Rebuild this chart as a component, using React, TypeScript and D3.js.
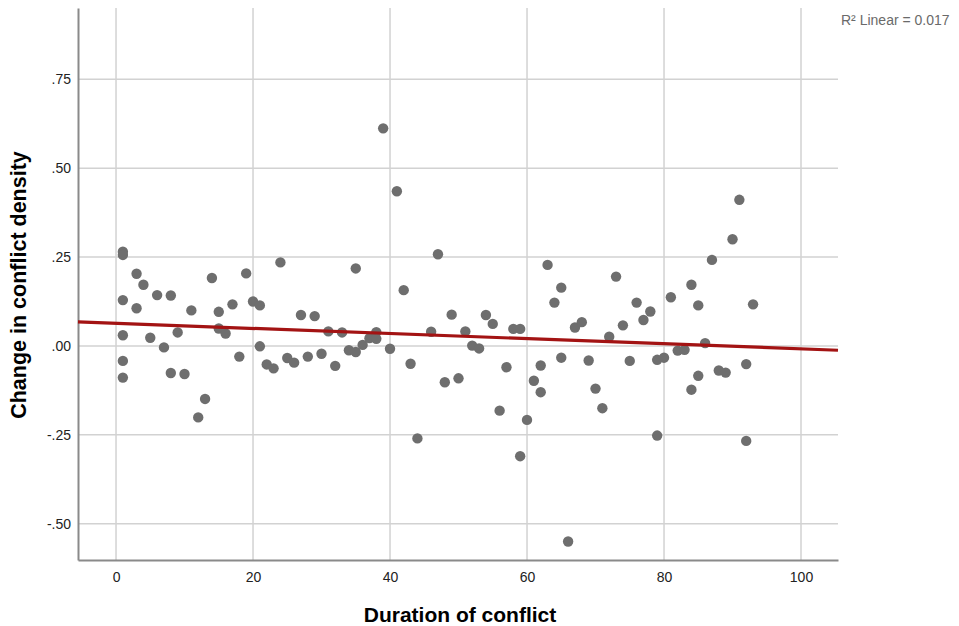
import React, { useEffect, useRef } from "react";
import * as d3 from "d3";

// duration of conflict (x) and change in conflict density (y)
const durations = [
  1, 1, 1, 1, 1, 1, 3, 3, 4, 5, 6, 7, 8, 8, 9, 10, 11, 12, 13, 14, 15, 15, 16, 17, 18, 19, 20,
  21, 21, 22, 23, 24, 25, 26, 27, 28, 29, 30, 31, 32, 33, 34, 35, 35, 36, 37, 38, 38, 39, 40,
  41, 42, 43, 44, 46, 47, 48, 49, 50, 51, 52, 53, 54, 55, 56, 57, 58, 59, 59, 60, 61, 62, 62,
  63, 64, 65, 65, 66, 67, 68, 69, 70, 71, 72, 73, 74, 75, 76, 77, 78, 79, 79, 80, 81, 82, 83,
  84, 84, 85, 85, 86, 87, 88, 89, 90, 91, 92, 92, 93,
];
const changes = [
  0.265, 0.256, 0.129, 0.03, -0.042, -0.089, 0.203, 0.106, 0.172, 0.023, 0.143, -0.004, 0.142,
  -0.076, 0.038, -0.079, 0.1, -0.201, -0.149, 0.191, 0.096, 0.049, 0.035, 0.117, -0.03, 0.204,
  0.125, 0.114, -0.001, -0.052, -0.063, 0.235, -0.034, -0.047, 0.087, -0.03, 0.084, -0.022,
  0.041, -0.056, 0.038, -0.012, 0.218, -0.017, 0.003, 0.022, 0.039, 0.02, 0.612, -0.008, 0.435,
  0.157, -0.05, -0.26, 0.04, 0.258, -0.102, 0.088, -0.091, 0.041, 0.001, -0.007, 0.087, 0.062,
  -0.182, -0.06, 0.048, 0.048, -0.31, -0.208, -0.098, -0.055, -0.13, 0.228, 0.122, 0.164,
  -0.033, -0.55, 0.052, 0.067, -0.041, -0.12, -0.175, 0.026, 0.195, 0.058, -0.042, 0.122, 0.073,
  0.097, -0.039, -0.252, -0.033, 0.137, -0.013, -0.011, 0.172, -0.123, 0.114, -0.084, 0.008,
  0.242, -0.069, -0.075, 0.3, 0.411, -0.051, -0.267, 0.117,
];
const xTicks = [0, 20, 40, 60, 80, 100];
const yTicks = [-0.5, -0.25, 0, 0.25, 0.5, 0.75];
const r2Label = "R² Linear = 0.017";

const App = () => {
  const svgRef = useRef<SVGSVGElement>(null);

  useEffect(() => {
    const svg = d3.select(svgRef.current);
    svg.selectAll("*").remove();

    const left = 78, right = 838, top = 8, bottom = 560;
    const font = "'Liberation Sans', Arial, sans-serif";

    const x = d3.scaleLinear().domain([-5.55, 105.4]).range([left, right]);
    const y = d3.scaleLinear().domain([-0.602, 0.9505]).range([bottom, top]);

    const grid = svg.append("g").attr("stroke", "#d2d2d2").attr("stroke-width", 1.5);
    grid.selectAll("line.v")
      .data(xTicks)
      .join("line")
      .attr("class", "v")
      .attr("x1", d => x(d)).attr("x2", d => x(d))
      .attr("y1", top).attr("y2", bottom);
    grid.selectAll("line.h")
      .data(yTicks)
      .join("line")
      .attr("class", "h")
      .attr("x1", left).attr("x2", right)
      .attr("y1", d => y(d)).attr("y2", d => y(d));

    // SPSS style: no leading zero, plain hyphen
    const fmtY = (d: number) =>
      (d < 0 ? "-" : "") + d3.format(".2f")(Math.abs(d)).replace(/^0/, "");

    // axes without tick marks
    const xAxis = svg.append("g")
      .attr("transform", `translate(0,${bottom})`)
      .call(d3.axisBottom(x).tickValues(xTicks).tickSize(0).tickPadding(12).tickFormat(d3.format("d")));
    const yAxis = svg.append("g")
      .attr("transform", `translate(${left},0)`)
      .call(d3.axisLeft(y).tickValues(yTicks).tickSize(0).tickPadding(7).tickFormat(d => fmtY(+d)));
    [xAxis, yAxis].forEach(a => {
      a.select(".domain").attr("stroke", "#8a8a8a").attr("stroke-width", 2);
      a.selectAll("text").attr("font-family", font).attr("font-size", 14).attr("fill", "#222");
    });

    const pts = durations.map((d, i) => ({ x: d, y: changes[i] }));
    svg.append("g")
      .selectAll("circle")
      .data(pts)
      .join("circle")
      .attr("cx", d => x(d.x))
      .attr("cy", d => y(d.y))
      .attr("r", 5.2)
      .attr("fill", "#6e6e6e");

    // least squares fit line
    const mx = d3.mean(pts, d => d.x)!;
    const my = d3.mean(pts, d => d.y)!;
    const slope = d3.sum(pts, d => (d.x - mx) * (d.y - my)) / d3.sum(pts, d => (d.x - mx) ** 2);
    const icpt = my - slope * mx;
    const [x0, x1] = x.domain();
    svg.append("line")
      .attr("x1", x(x0)).attr("y1", y(icpt + slope * x0))
      .attr("x2", x(x1)).attr("y2", y(icpt + slope * x1))
      .attr("stroke", "#a31313")
      .attr("stroke-width", 3.2);

    svg.append("text")
      .attr("x", 841).attr("y", 25)
      .attr("font-family", font).attr("font-size", 14).attr("fill", "#6a6a6a")
      .text(r2Label);

    svg.append("text")
      .attr("x", 460).attr("y", 622)
      .attr("text-anchor", "middle")
      .attr("font-family", font).attr("font-size", 21).attr("font-weight", "bold")
      .text("Duration of conflict");

    svg.append("text")
      .attr("transform", `translate(26,285) rotate(-90)`)
      .attr("text-anchor", "middle")
      .attr("font-family", font).attr("font-size", 21.5).attr("font-weight", "bold")
      .text("Change in conflict density");
  }, []);

  return (
    <svg
      ref={svgRef}
      width={959}
      height={626}
      style={{ position: "absolute", left: 0, top: 0, background: "#fff" }}
    />
  );
};

export default App;
